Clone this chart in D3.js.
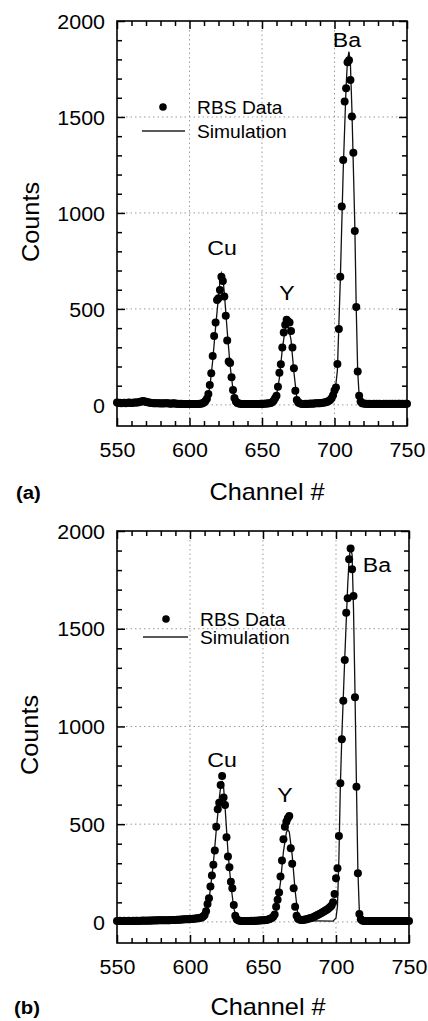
<!DOCTYPE html>
<html>
<head>
<meta charset="utf-8">
<script src="https://cdn.jsdelivr.net/npm/d3@7"></script>
<style>
  body { margin: 0; background: #fff; }
  svg { display: block; font-family: 'Liberation Sans', Arial, sans-serif; }
  .grid line { stroke: #9a9a9a; stroke-width: 1; stroke-dasharray: 1.5, 3; }
</style>
</head>
<body>
<div class="chart"></div>
<script>
// channel numbers start here, one count per channel
const channelStart = 550

// RBS data, panel (a)
const countsA = [
  12, 10, 11, 9, 10, 11, 9, 10, 12, 11,
  10, 11, 12, 13, 12, 14, 16, 18, 20, 18,
  16, 14, 12, 11, 10, 9, 9, 8, 9, 8,
  7, 8, 7, 8, 9, 8, 7, 6, 7, 8,
  7, 6, 6, 5, 6, 5, 4, 5, 4, 5,
  4, 5, 4, 4, 5, 4, 5, 6, 6, 8,
  12, 20, 32, 57, 104, 165, 255, 359, 429, 547,
  556, 599, 668, 646, 565, 464, 335, 226, 218, 144,
  78, 36, 18, 10, 7, 6, 5, 4, 4, 5,
  4, 5, 4, 4, 5, 4, 5, 4, 5, 6,
  5, 6, 6, 7, 7, 8, 10, 14, 22, 35,
  48, 95, 168, 212, 299, 377, 417, 443, 435, 429,
  385, 299, 191, 73, 26, 12, 8, 6, 5, 5,
  6, 5, 6, 6, 7, 6, 7, 8, 8, 9,
  9, 10, 11, 12, 14, 16, 20, 26, 34, 50,
  75, 90, 213, 395, 667, 1033, 1276, 1580, 1649, 1785,
  1795, 1693, 1502, 1314, 906, 510, 174, 47, 18, 9,
  7, 6, 6, 5, 6, 5, 5, 6, 5, 6,
  5, 6, 5, 5, 6, 5, 6, 5, 6, 5,
  6, 5, 6, 5, 6, 6, 5, 6, 5, 6,
  6
]

// RBS data, panel (b)
const countsB = [
  5, 5, 6, 5, 5, 6, 5, 5, 6, 5,
  5, 6, 5, 6, 6, 5, 6, 6, 7, 6,
  6, 7, 6, 7, 7, 7, 8, 7, 8, 8,
  8, 8, 9, 8, 9, 9, 9, 10, 10, 10,
  10, 11, 11, 11, 12, 12, 13, 13, 14, 14,
  15, 15, 16, 16, 17, 18, 19, 21, 23, 27,
  35, 55, 92, 121, 181, 237, 292, 365, 487, 576,
  610, 701, 747, 636, 598, 433, 334, 280, 206, 172,
  87, 32, 14, 8, 6, 5, 5, 4, 4, 5,
  5, 5, 6, 5, 6, 6, 6, 7, 7, 8,
  8, 9, 10, 11, 13, 16, 20, 26, 38, 78,
  113, 150, 232, 314, 423, 487, 513, 530, 542, 377,
  297, 172, 78, 32, 16, 12, 10, 10, 11, 12,
  14, 16, 18, 20, 23, 26, 30, 34, 38, 42,
  46, 50, 54, 59, 64, 70, 76, 84, 100, 143,
  223, 274, 440, 709, 935, 1132, 1340, 1582, 1656, 1855,
  1911, 1804, 1668, 1149, 692, 249, 41, 14, 7, 5,
  4, 4, 4, 4, 4, 5, 4, 4, 5, 4,
  4, 4, 5, 4, 4, 5, 4, 4, 4, 5,
  4, 4, 5, 4, 4, 4, 5, 4, 4, 4,
  4
]

// simulation curves [channel, counts]
const simA = [
  [550, 10], [600, 6], [608, 9], [610, 15], [612, 33], [614, 90], [616, 230],
  [618, 405], [620, 565], [621, 640], [622, 686], [623, 665], [624, 585],
  [626, 385], [628, 205], [630, 80], [632, 24], [634, 8], [640, 5], [655, 7],
  [658, 20], [660, 48], [662, 140], [664, 290], [666, 395], [667, 418],
  [668, 410], [670, 340], [672, 170], [674, 38], [676, 9], [690, 8], [698, 15],
  [700, 42], [702, 180], [704, 650], [706, 1220], [708, 1660], [709, 1800],
  [710, 1840], [711, 1770], [712, 1540], [714, 940], [715, 500], [716, 175],
  [717, 48], [719, 12], [750, 6]
]
const simB = [
  [550, 5], [605, 10], [608, 14], [610, 22], [612, 62], [614, 170], [616, 300],
  [618, 470], [620, 630], [621, 690], [622, 722], [623, 690], [624, 590],
  [626, 360], [628, 190], [630, 70], [632, 15], [636, 5], [650, 5], [656, 10],
  [658, 28], [660, 95], [662, 205], [664, 360], [666, 458], [667, 472],
  [668, 460], [670, 340], [672, 160], [674, 30], [676, 6], [698, 4],
  [700, 20], [701, 80], [702, 330], [703, 700], [704, 950], [706, 1350],
  [708, 1720], [709, 1860], [710, 1915], [711, 1880], [712, 1600],
  [713, 1180], [714, 700], [715, 260], [716, 50], [718, 8], [750, 4]
]

// axis ticks
const xMajor = [550, 600, 650, 700, 750]
const xMinor = [560, 570, 580, 590, 610, 620, 630, 640, 660, 670, 680, 690, 710, 720, 730, 740]
const yMajor = [0, 500, 1000, 1500, 2000]
const yMinor = [100, 200, 300, 400, 600, 700, 800, 900, 1100, 1200, 1300, 1400, 1600, 1700, 1800, 1900]
const xGrid = [600, 650, 700]
const yGrid = [0, 500, 1000, 1500]

const peakLabels = ['Cu', 'Y', 'Ba']
const legendLabels = ['RBS Data', 'Simulation']

const W = 428
const H = 1021
const STRETCH = 'scale(1.1,1)'

const svg = d3
  .select('.chart')
  .append('svg')
  .attr('width', W)
  .attr('height', H)

function addText(g, x, y, str, size, opts = {}) {
  return g
    .append('text')
    .attr('transform', `translate(${x},${y}) ${opts.rotate ? 'rotate(-90)' : ''} ${STRETCH}`)
    .attr('text-anchor', opts.anchor || 'start')
    .attr('dominant-baseline', 'central')
    .style('font-size', size + 'px')
    .style('font-weight', opts.bold ? 'bold' : 'normal')
    .text(str)
}

// inward tick marks drawn from an axis generator
function tickMarks(g, axis, tr, values, len) {
  const t = g.append('g')
    .attr('transform', tr)
    .call(axis.tickValues(values).tickSizeInner(-len).tickSizeOuter(0).tickFormat(() => ''))
  t.select('.domain').remove()
  t.selectAll('.tick line')
    .attr('stroke', '#000')
    .attr('stroke-width', 1.5)
  return t
}

function drawPanel(p) {
  const g = svg.append('g')
  const x = d3.scaleLinear().domain([550, 750]).range([p.left, p.right])
  const y = d3.scaleLinear().domain([p.yMin, 2000]).range([p.bottom, p.top])

  // grid
  const grid = g.append('g').attr('class', 'grid')
  grid.selectAll('line.gx')
    .data(xGrid)
    .enter()
    .append('line')
    .attr('class', 'gx')
    .attr('x1', (d) => x(d))
    .attr('x2', (d) => x(d))
    .attr('y1', p.top)
    .attr('y2', p.bottom)
  grid.selectAll('line.gy')
    .data(yGrid)
    .enter()
    .append('line')
    .attr('class', 'gy')
    .attr('x1', p.left)
    .attr('x2', p.right)
    .attr('y1', (d) => y(d))
    .attr('y2', (d) => y(d))

  // simulation line
  const line = d3.line().x((d) => x(d[0])).y((d) => y(d[1]))
  g.append('path')
    .datum(p.sim)
    .attr('d', line)
    .attr('fill', 'none')
    .attr('stroke', '#111')
    .attr('stroke-width', 1.3)

  // data points
  g.selectAll('circle.pt')
    .data(p.counts)
    .enter()
    .append('circle')
    .attr('class', 'pt')
    .attr('cx', (d, i) => x(channelStart + i))
    .attr('cy', (d) => y(d))
    .attr('r', 4)
    .attr('fill', '#000')

  // ticks on all four sides, pointing in
  tickMarks(g, d3.axisBottom(x), `translate(0,${p.bottom})`, xMajor, 8)
  tickMarks(g, d3.axisBottom(x), `translate(0,${p.bottom})`, xMinor, 5)
  tickMarks(g, d3.axisTop(x), `translate(0,${p.top})`, xMajor, 8)
  tickMarks(g, d3.axisTop(x), `translate(0,${p.top})`, xMinor, 5)
  tickMarks(g, d3.axisLeft(y), `translate(${p.left},0)`, yMajor, 8)
  tickMarks(g, d3.axisLeft(y), `translate(${p.left},0)`, yMinor, 5)
  tickMarks(g, d3.axisRight(y), `translate(${p.right},0)`, yMajor, 8)
  tickMarks(g, d3.axisRight(y), `translate(${p.right},0)`, yMinor, 5)

  // tick labels
  const xl = g.append('g')
    .attr('transform', `translate(0,${p.bottom + 24})`)
    .call(d3.axisBottom(x).tickValues(xMajor).tickSize(0).tickPadding(0).tickFormat(d3.format('d')))
  xl.select('.domain').remove()
  xl.selectAll('text')
    .attr('y', 0).attr('dy', null)
    .attr('dominant-baseline', 'central')
    .attr('transform', STRETCH)
    .style('font-size', '19.5px')
    .attr('fill', '#000')
  const yl = g.append('g')
    .attr('transform', `translate(${p.left - 12},0)`)
    .call(d3.axisLeft(y).tickValues(yMajor).tickSize(0).tickPadding(0).tickFormat(d3.format('d')))
  yl.select('.domain').remove()
  yl.selectAll('text')
    .attr('x', 0).attr('dy', null)
    .attr('dominant-baseline', 'central')
    .attr('transform', STRETCH)
    .style('font-size', '19.5px')
    .attr('fill', '#000')
  xl.attr('font-family', null)
  yl.attr('font-family', null)

  // frame
  g.append('rect')
    .attr('x', p.left)
    .attr('y', p.top)
    .attr('width', p.right - p.left)
    .attr('height', p.bottom - p.top)
    .attr('fill', 'none')
    .attr('stroke', '#000')
    .attr('stroke-width', 1.6)

  // legend
  g.append('circle')
    .attr('cx', p.legend.dotX)
    .attr('cy', p.legend.dotY)
    .attr('r', 3.8)
    .attr('fill', '#000')
  g.append('line')
    .attr('x1', p.legend.lineX1)
    .attr('x2', p.legend.lineX2)
    .attr('y1', p.legend.lineY)
    .attr('y2', p.legend.lineY)
    .attr('stroke', '#222')
    .attr('stroke-width', 1.4)
  addText(g, p.legend.textX, p.legend.dotY + 1, legendLabels[0], 17.5)
  addText(g, p.legend.textX, p.legend.lineY + 1, legendLabels[1], 17.5)

  // element labels
  p.peaks.forEach((pk, i) => {
    addText(g, pk[0], pk[1], peakLabels[i], 21, { anchor: 'middle' })
  })

  // axis titles
  addText(g, (p.left + p.right) / 2 + 5, p.titleY, 'Channel #', 23, { anchor: 'middle' })
  addText(g, p.countsX, p.countsY, 'Counts', 23, { anchor: 'middle', rotate: true })
  addText(g, p.tagX, p.titleY, p.tag, 18.5, { bold: true })
}

drawPanel({
  left: 117, right: 407, top: 21, bottom: 426, yMin: -110,
  counts: countsA, sim: simA,
  legend: { dotX: 163, dotY: 107, lineX1: 142, lineX2: 185, lineY: 131, textX: 197 },
  peaks: [[222, 248], [287, 293], [347, 40]],
  titleY: 492, countsX: 31, countsY: 222, tagX: 16, tag: '(a)',
})

drawPanel({
  left: 117, right: 409, top: 531, bottom: 943, yMin: -108,
  counts: countsB, sim: simB,
  legend: { dotX: 166, dotY: 619, lineX1: 143, lineX2: 188, lineY: 637, textX: 200 },
  peaks: [[222, 760], [285, 795], [377, 565]],
  titleY: 1007, countsX: 30, countsY: 735, tagX: 14, tag: '(b)',
})
</script>
</body>
</html>
